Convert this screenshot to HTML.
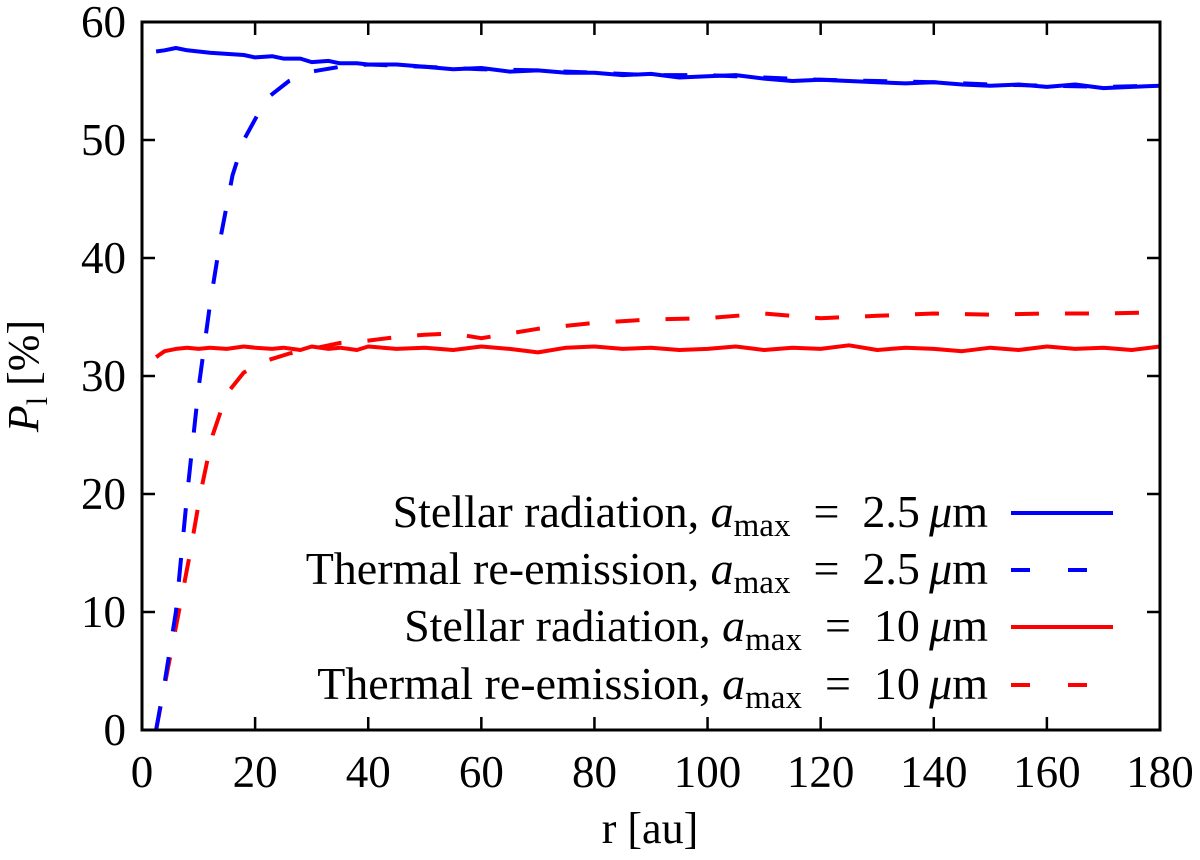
<!DOCTYPE html>
<html><head><meta charset="utf-8"><style>
body{margin:0;background:#fff}
svg, svg text{font-family:"Liberation Serif","Times New Roman","DejaVu Serif","Noto Serif CJK SC",serif !important}
</style></head><body>
<svg id="chart" width="1200" height="855" viewBox="0 0 1200 855" xmlns="http://www.w3.org/2000/svg">
<g id="series"></g>
<rect x="142" y="22" width="1018" height="708" fill="none" stroke="#000" stroke-width="3"/>
<g id="ticks"></g>
<text x="650" y="843" font-size="44" text-anchor="middle">r [au]</text>
<text transform="translate(38,376) rotate(-90)" font-size="44" text-anchor="middle"><tspan font-style="italic">P</tspan><tspan font-size="30" dy="9">l</tspan><tspan dy="-9"> [%]</tspan></text>
<g id="legend"></g>
</svg>
<script>
const xTicks=[0,20,40,60,80,100,120,140,160,180];
const yTicks=[0,10,20,30,40,50,60];
const rSolid=[2.5,4,6,8,10,12,15,18,20,23,25,28,30,33,35,38,40,45,50,55,60,65,70,75,80,85,90,95,100,105,110,115,120,125,130,135,140,145,150,155,160,165,170,175,180];
const blueSolid=[57.5,57.6,57.8,57.6,57.5,57.4,57.3,57.2,57.0,57.1,56.9,56.9,56.6,56.7,56.5,56.5,56.4,56.4,56.2,56.0,56.1,55.8,55.9,55.7,55.7,55.5,55.6,55.3,55.4,55.5,55.2,55.0,55.1,55.0,54.9,54.8,54.9,54.7,54.6,54.7,54.5,54.7,54.4,54.5,54.6];
const redSolid=[31.6,32.1,32.3,32.4,32.3,32.4,32.3,32.5,32.4,32.3,32.4,32.2,32.5,32.3,32.4,32.2,32.5,32.3,32.4,32.2,32.5,32.3,32.0,32.4,32.5,32.3,32.4,32.2,32.3,32.5,32.2,32.4,32.3,32.6,32.2,32.4,32.3,32.1,32.4,32.2,32.5,32.3,32.4,32.2,32.5];
const rBlueDash=[2.5,4,6,8,10,12,14,16,18,22,26,30,35,40,50,60,70,80,90,100,110,120,130,140,150,160,170,180];
const blueDash=[0,4,10,20,29,36,42,47,50,53.5,55,55.8,56.2,56.4,56.2,56.0,55.9,55.7,55.5,55.5,55.3,55.1,55.0,54.9,54.7,54.6,54.5,54.6];
const rRedDash=[2.5,4.5,6.5,8.5,10.3,12.5,15,18,22,26,30,35,40,45,50,55,60,70,80,90,100,110,120,130,140,150,160,170,180];
const redDash=[0,5,10,15,20,25,28.5,30.3,31.3,31.9,32.3,32.8,33.0,33.3,33.5,33.6,33.2,34.0,34.5,34.8,34.9,35.3,34.9,35.1,35.3,35.2,35.3,35.3,35.4];
const X=v=>142+v/180*1018, Y=v=>730-v/60*708;
const NS="http://www.w3.org/2000/svg";
function mk(t,a,p){const e=document.createElementNS(NS,t);for(const k in a)e.setAttribute(k,a[k]);p.appendChild(e);return e;}
const tk=document.getElementById('ticks');
xTicks.forEach(v=>{
 const l=mk('path',{d:`M${X(v)},730v-13M${X(v)},22v13`,stroke:'#000','stroke-width':2.5},tk);
 
 
 const t=mk('text',{x:X(v),y:787,'font-size':45,'text-anchor':'middle'},tk);t.textContent=v;
 
 
});
yTicks.forEach(v=>{
 const l=mk('path',{d:`M142,${Y(v)}h13M1160,${Y(v)}h-13`,stroke:'#000','stroke-width':2.5},tk);
 
 
 const t=mk('text',{x:126,y:Y(v)+15,'font-size':45,'text-anchor':'end'},tk);t.textContent=v;
 
 
});
const sg=document.getElementById('series');
function line(xs,ys,color,dash,name){
 const d=xs.map((x,i)=>(i?'L':'M')+X(x).toFixed(1)+','+Y(ys[i]).toFixed(1)).join('');
 const p=mk('path',{d:d,fill:'none',stroke:color,'stroke-width':4,'stroke-linejoin':'round'},sg);
 if(dash)p.setAttribute('stroke-dasharray',dash);
 
 
}
line(rRedDash,redDash,'#ff0000','24,26','thermal-10um-line');
line(rBlueDash,blueDash,'#0000ff','24,26','thermal-2p5um-line');
line(rSolid,redSolid,'#ff0000',null,'stellar-10um-line');
line(rSolid,blueSolid,'#0000ff',null,'stellar-2p5um-line');
const lg=document.getElementById('legend');
const entries=[['Stellar radiation, ','2.5','#0000ff',null,513],['Thermal re-emission, ','2.5','#0000ff','19,38',570],['Stellar radiation, ','10','#ff0000',null,627],['Thermal re-emission, ','10','#ff0000','19,38',685]];
entries.forEach(e=>{
 const t=mk('text',{x:988,y:e[4]+14,'font-size':46,'text-anchor':'end'},lg);
 t.innerHTML=e[0]+'<tspan font-style="italic">a</tspan><tspan font-size="33" dy="9">max</tspan><tspan dy="-9">\u2002=\u2002'+e[1]+'\u2009</tspan><tspan font-style="italic">μ</tspan>m';
 
 
 const l=mk('line',{x1:1011,x2:1113,y1:e[4],y2:e[4],stroke:e[2],'stroke-width':4},lg);
 if(e[3])l.setAttribute('stroke-dasharray',e[3]);
 
 
});
</script>
</body></html>
